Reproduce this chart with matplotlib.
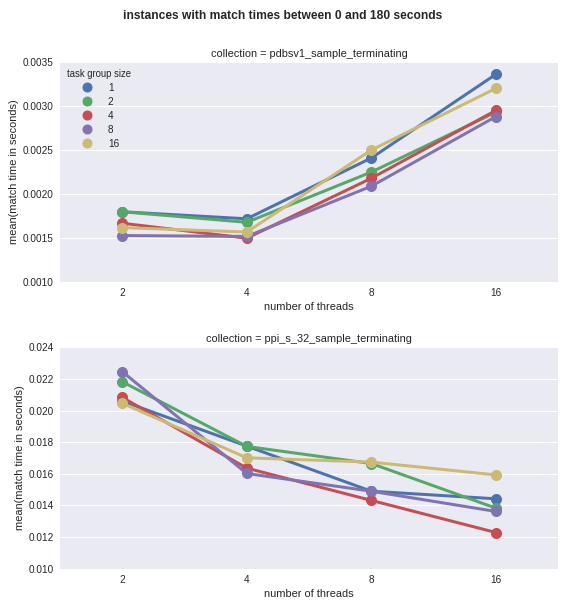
import matplotlib
matplotlib.use("Agg")
import matplotlib.pyplot as plt
from matplotlib.lines import Line2D

# --- data ---
threads = ["2", "4", "8", "16"]
group_sizes = ["1", "2", "4", "8", "16"]
colors = ["#4C72B0", "#55A868", "#C44E52", "#8172B2", "#CCB974"]

# collection = pdbsv1_sample_terminating
pdbsv1 = {
    "1": [0.00180, 0.00172, 0.00241, 0.00336],
    "2": [0.00180, 0.00168, 0.00225, 0.00293],
    "4": [0.00167, 0.00150, 0.00218, 0.00295],
    "8": [0.00153, 0.00152, 0.00209, 0.00288],
    "16": [0.00162, 0.00157, 0.00250, 0.00320],
}

# collection = ppi_s_32_sample_terminating
ppi = {
    "1": [0.02060, 0.01775, 0.01490, 0.01442],
    "2": [0.02182, 0.01773, 0.01665, 0.01383],
    "4": [0.02083, 0.01636, 0.01432, 0.01229],
    "8": [0.02246, 0.01602, 0.01490, 0.01362],
    "16": [0.02046, 0.01701, 0.01674, 0.01593],
}

plt.rcParams["font.family"] = ["Liberation Sans", "DejaVu Sans"]
plt.rcParams["text.color"] = "#262626"
plt.rcParams["axes.labelcolor"] = "#262626"
plt.rcParams["xtick.color"] = "#262626"
plt.rcParams["ytick.color"] = "#262626"

fig = plt.figure(figsize=(565 / 72, 607 / 72), dpi=72)
ax1 = fig.add_axes([0.106, 0.535, 0.882, 0.363])
ax2 = fig.add_axes([0.106, 0.063, 0.882, 0.365])

panels = [
    (ax1, pdbsv1, "collection = pdbsv1_sample_terminating", (0.0010, 0.0035),
     [0.0010, 0.0015, 0.0020, 0.0025, 0.0030, 0.0035], "%.4f"),
    (ax2, ppi, "collection = ppi_s_32_sample_terminating", (0.010, 0.024),
     [0.010, 0.012, 0.014, 0.016, 0.018, 0.020, 0.022, 0.024], "%.3f"),
]

xpos = list(range(len(threads)))
for ax, data, title, ylim, yticks, fmt in panels:
    ax.set_facecolor("#EAEAF2")
    for s in ax.spines.values():
        s.set_visible(False)
    ax.set_axisbelow(True)
    ax.yaxis.grid(True, color="white", linewidth=1)
    ax.xaxis.grid(False)
    for g, c in zip(group_sizes, colors):
        ax.plot(xpos, data[g], color=c, linewidth=3, marker="o",
                markersize=10, solid_capstyle="round")
    ax.set_xlim(-0.5, len(threads) - 0.5)
    ax.set_ylim(*ylim)
    ax.set_xticks(xpos)
    ax.set_xticklabels(threads)
    ax.set_yticks(yticks)
    ax.set_yticklabels([fmt % v for v in yticks])
    ax.tick_params(length=0, labelsize=10, pad=6)
    ax.set_xlabel("number of threads", fontsize=11, labelpad=4)
    ax.set_ylabel("mean(match time in seconds)", fontsize=11, labelpad=4)
    ax.set_title(title, fontsize=11, pad=5)

# legend shows only the dots, like a seaborn pointplot
handles = [Line2D([], [], linestyle="none", marker="o", markersize=9,
                  color=c) for c in colors]
leg = ax1.legend(handles, group_sizes, title="task group size",
                 loc="upper left", frameon=False, fontsize=10,
                 title_fontsize=9.5, handlelength=4.0, borderaxespad=0.3,
                 labelspacing=0.4, handletextpad=0.1)
leg._legend_box.align = "left"

fig.suptitle("instances with match times between 0 and 180 seconds",
             fontsize=12, fontweight="bold", y=0.983)

fig.savefig("out.png", dpi=72)
